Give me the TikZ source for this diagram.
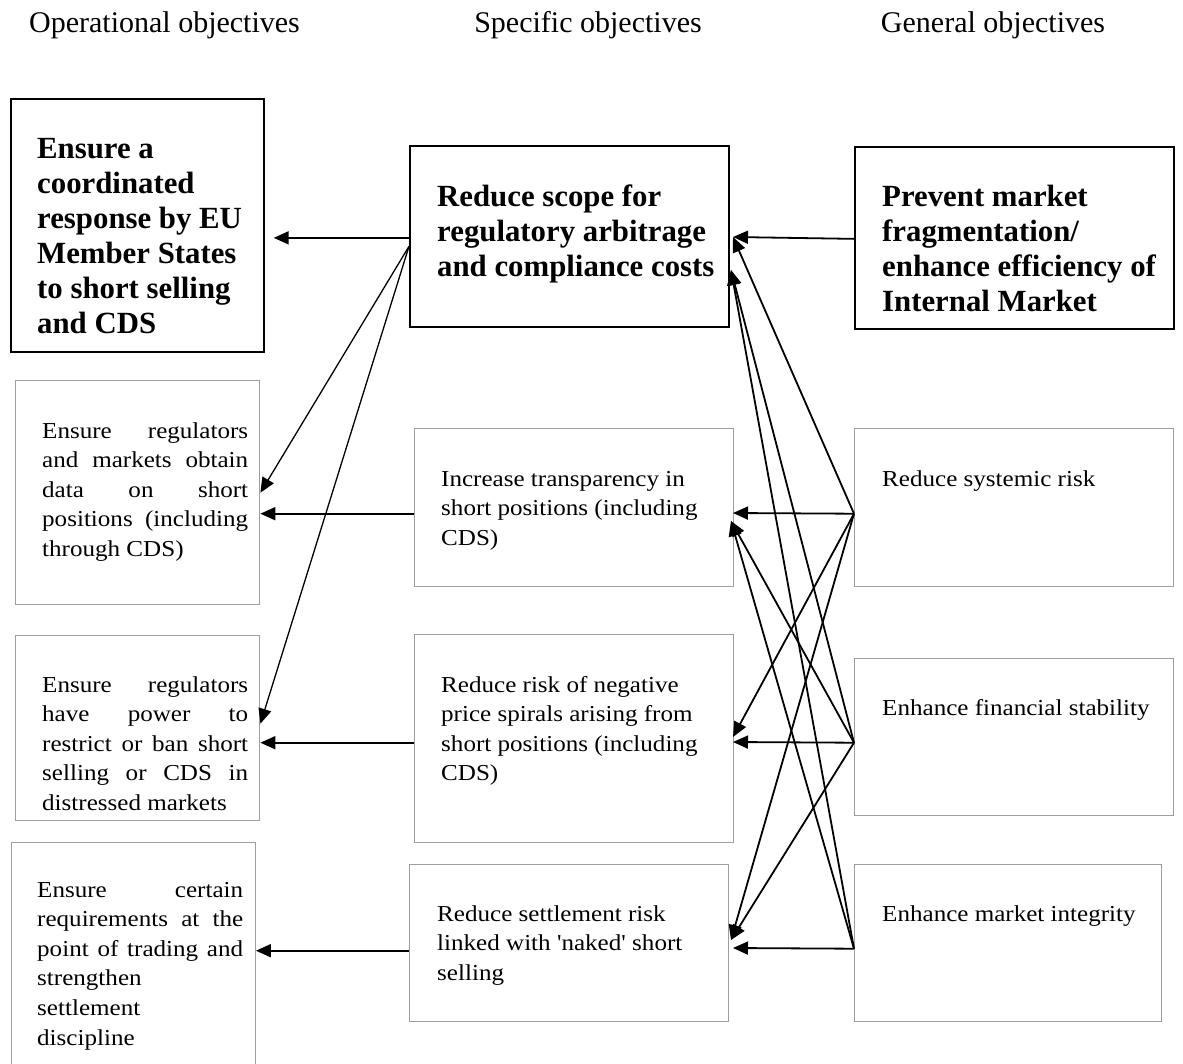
\documentclass[tikz,border=0pt]{standalone}
\usepackage{fontspec}
\setmainfont{Liberation Serif}
\newfontfamily\rfont[FakeStretch=1.1]{Liberation Serif}
\usetikzlibrary{arrows.meta}
\newcommand\rtext{\rfont\fontsize{22.8}{29.6}\selectfont}
\newcommand\btext{\bfseries\fontsize{30.8}{35}\selectfont}
\newcommand\htext{\fontsize{30}{36}\selectfont}
\newcommand\jl[1]{\makebox[206pt][s]{#1}}
\tikzset{
  boldbox/.style={draw=black, line width=1.7pt, inner sep=0pt, anchor=north west},
  plainbox/.style={draw=black!38, line width=1.4pt, inner sep=0pt, anchor=north west},
  conn/.style={line width=1.8pt, -{Triangle[length=15pt,width=13pt]}},
  thinconn/.style={conn, line width=1.3pt},
  txt/.style={inner sep=0pt, anchor=base west},
  head/.style={inner sep=0pt, anchor=base, font=\htext},
}
\begin{document}
\begin{tikzpicture}[x=1pt,y=-1pt]
\useasboundingbox (0,0) rectangle (1183,1063);
\clip (0,0) rectangle (1183,1063);
% headings
\node[head] (h1) at (164.5,32) {Operational objectives};
\node[head] (h2) at (588,32) {Specific objectives};
\node[head] (h3) at (993,32) {General objectives};
% boxes
\node[boldbox, minimum width=253pt, minimum height=253pt] (A) at (10,98) {};
\node[boldbox, minimum width=319pt, minimum height=181pt] (B) at (409,145) {};
\node[boldbox, minimum width=319pt, minimum height=182pt] (C) at (854,146) {};
\node[plainbox, minimum width=244pt, minimum height=224pt] (L1) at (15,380) {};
\node[plainbox, minimum width=244pt, minimum height=185pt] (L2) at (15,635) {};
\node[plainbox, minimum width=244pt, minimum height=240pt] (L3) at (10.5,842) {};
\node[plainbox, minimum width=319pt, minimum height=158pt] (M1) at (414,428) {};
\node[plainbox, minimum width=319pt, minimum height=208pt] (M2) at (414,634) {};
\node[plainbox, minimum width=319pt, minimum height=157pt] (M3) at (409,864) {};
\node[plainbox, minimum width=319pt, minimum height=158pt] (R1) at (854,428) {};
\node[plainbox, minimum width=319pt, minimum height=157pt] (R2) at (854,658) {};
\node[plainbox, minimum width=307pt, minimum height=157pt] (R3) at (854,864) {};
% texts
\node[txt] (tA) at (37,158) {\parbox[t]{230pt}{\btext Ensure a\\ coordinated\\ response by EU\\ Member States\\ to short selling\\ and CDS}};
\node[txt] (tB) at (437,206) {\parbox[t]{290pt}{\btext Reduce scope for\\ regulatory arbitrage\\ and compliance costs}};
\node[txt] (tC) at (882,206) {\parbox[t]{290pt}{\btext Prevent market\\ fragmentation/\\ enhance efficiency of\\ Internal Market}};
\node[txt] (tL1) at (42,438) {\parbox[t]{206pt}{\rtext \jl{Ensure regulators}\\ \jl{and markets obtain}\\ \jl{data on short}\\ \jl{positions (including}\\ through CDS)}};
\node[txt] (tL2) at (42,692) {\parbox[t]{206pt}{\rtext \jl{Ensure regulators}\\ \jl{have power to}\\ \jl{restrict or ban short}\\ \jl{selling or CDS in}\\ distressed markets}};
\node[txt] (tL3) at (37,897) {\parbox[t]{206pt}{\rtext \jl{Ensure certain}\\ \jl{requirements at the}\\ \jl{point of trading and}\\ strengthen\\ settlement\\ discipline}};
\node[txt] (tM1) at (441,486) {\parbox[t]{290pt}{\rtext Increase transparency in\\ short positions (including\\ CDS)}};
\node[txt] (tM2) at (441,692) {\parbox[t]{290pt}{\rtext Reduce risk of negative\\ price spirals arising from\\ short positions (including\\ CDS)}};
\node[txt] (tM3) at (437,921) {\parbox[t]{290pt}{\rtext Reduce settlement risk\\ linked with 'naked' short\\ selling}};
\node[txt] (tR1) at (882,486) {\rtext Reduce systemic risk};
\node[txt] (tR2) at (882,715) {\rtext Enhance financial stability};
\node[txt] (tR3) at (882,921) {\rtext Enhance market integrity};
% connector end points
\coordinate (Bo1) at ([yshift=-1.5pt]B.west);
\coordinate (Bo2) at ([yshift=-10pt]B.west);
\coordinate (Ain) at ([xshift=9pt]A.east |- Bo1);
\coordinate (M1o) at ([yshift=-6pt]M1.west);
\coordinate (M2o) at ([yshift=-4pt]M2.west);
\coordinate (M3o) at ([yshift=-7.5pt]M3.west);
\coordinate (L1a) at (L1.east);
\coordinate (L1h) at (L1.east |- M1o);
\coordinate (L2a) at ([yshift=4.5pt]L2.east);
\coordinate (L2h) at (L2.east |- M2o);
\coordinate (L3h) at (L3.east |- M3o);
\coordinate (Co) at ([yshift=-1pt]C.west);
\coordinate (R1o) at ([yshift=-6pt]R1.west);
\coordinate (R2o) at ([yshift=-5.5pt]R2.west);
\coordinate (R3o) at ([yshift=-5.5pt]R3.west);
\coordinate (Bi1) at (733,237);
\coordinate (Bi2) at (731,270);
\coordinate (M1h) at (733,513);
\coordinate (M1s) at (731,521);
\coordinate (M2h) at (733,742);
\coordinate (M2s) at (733,737);
\coordinate (M3h) at (733,948);
\coordinate (M3s) at (731,940);
% left connectors
\draw[conn] (Bo1) -- (Ain);
\draw[thinconn] (Bo2) -- (L1a);
\draw[thinconn] (Bo2) -- (L2a);
\draw[conn] (M1o) -- (L1h);
\draw[conn] (M2o) -- (L2h);
\draw[conn] (M3o) -- (L3h);
% right connectors
\draw[conn] (Co) -- (Bi1);
\draw[conn] (R1o) -- (Bi1);
\draw[conn] (R2o) -- (Bi2);
\draw[conn] (R3o) -- (Bi2);
\draw[conn] (R1o) -- (M1h);
\draw[conn] (R2o) -- (M1s);
\draw[conn] (R3o) -- (M1s);
\draw[conn] (R1o) -- (M2s);
\draw[conn] (R2o) -- (M2h);
\draw[conn] (R1o) -- (M3s);
\draw[conn] (R2o) -- (M3s);
\draw[conn] (R3o) -- (M3h);
\end{tikzpicture}
\end{document}
